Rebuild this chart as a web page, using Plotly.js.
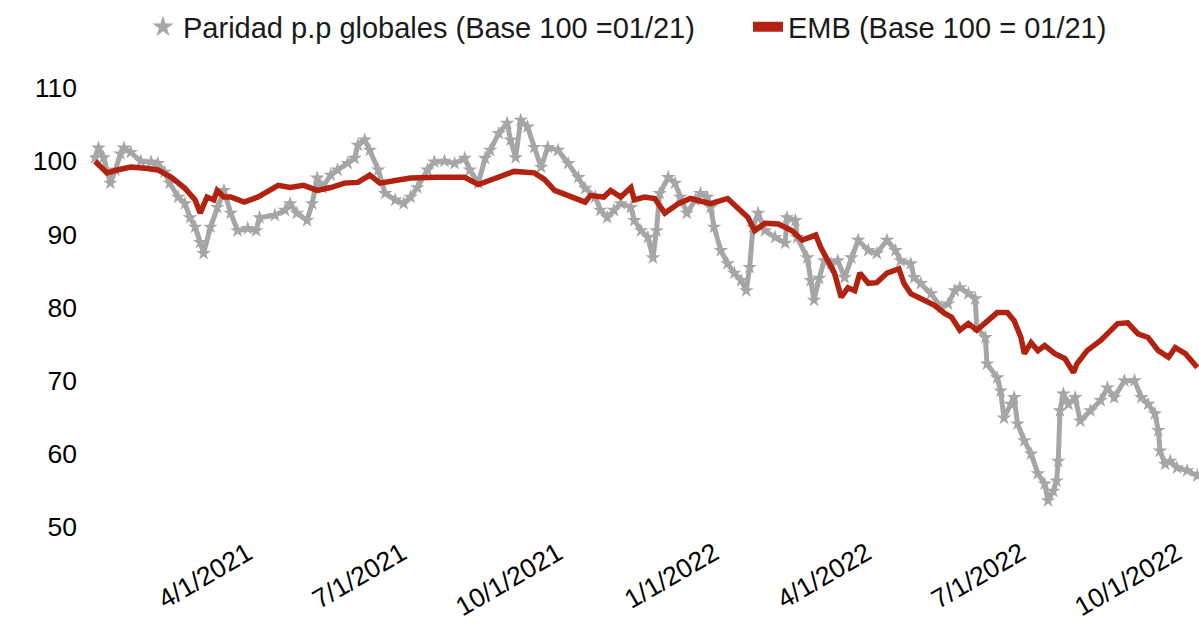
<!DOCTYPE html>
<html>
<head>
<meta charset="utf-8">
<script src="https://cdn.plot.ly/plotly-3.0.1.min.js"></script>
<style>
  html, body { margin: 0; padding: 0; background: #ffffff; }
  #chart { width: 1199px; height: 624px; }
</style>
</head>
<body>
<div id="chart"></div>
<script>
// EMB (Base 100 = 01/21)
const embDates = [
  '2021-01-01','2021-01-04','2021-01-08','2021-01-14','2021-01-22','2021-02-01','2021-02-07','2021-02-15',
  '2021-02-23','2021-03-01','2021-03-04','2021-03-08','2021-03-12','2021-03-14','2021-03-18','2021-03-22',
  '2021-03-30','2021-04-07','2021-04-14','2021-04-19','2021-04-26','2021-05-04','2021-05-12','2021-05-20',
  '2021-05-28','2021-06-05','2021-06-12','2021-06-18','2021-06-28','2021-07-06','2021-07-22','2021-08-07',
  '2021-08-15','2021-08-26','2021-09-05','2021-09-17','2021-09-23','2021-09-29','2021-10-07','2021-10-17',
  '2021-10-20','2021-10-28','2021-11-01','2021-11-07','2021-11-13','2021-11-15','2021-11-21','2021-11-27',
  '2021-12-03','2021-12-11','2021-12-18','2021-12-30','2022-01-09','2022-01-15','2022-01-21','2022-01-25',
  '2022-01-31','2022-02-08','2022-02-16','2022-02-22','2022-03-02','2022-03-05','2022-03-09','2022-03-13',
  '2022-03-17','2022-03-21','2022-03-25','2022-03-28','2022-04-02','2022-04-07','2022-04-13','2022-04-20',
  '2022-04-23','2022-04-27','2022-05-05','2022-05-11','2022-05-17','2022-05-21','2022-05-26','2022-05-31',
  '2022-06-05','2022-06-11','2022-06-17','2022-06-23','2022-06-27','2022-07-01','2022-07-03','2022-07-07',
  '2022-07-11','2022-07-15','2022-07-21','2022-07-27','2022-08-01','2022-08-03','2022-08-09','2022-08-17',
  '2022-08-23','2022-08-27','2022-09-02','2022-09-08','2022-09-14','2022-09-20','2022-09-26','2022-09-30',
  '2022-10-06','2022-10-13'
];
const embValues = [
  100.0, 99.3, 98.4, 98.8, 99.2, 99.0, 98.8, 97.8,
  96.3, 94.7, 92.9, 95.1, 94.7, 96.0, 95.1, 95.1,
  94.4, 95.1, 96.0, 96.7, 96.4, 96.7, 96.0, 96.4,
  97.0, 97.1, 98.1, 97.0, 97.4, 97.7, 97.8, 97.8,
  96.8, 97.7, 98.6, 98.4, 97.5, 96.0, 95.3, 94.4,
  95.3, 95.1, 96.0, 95.1, 96.4, 94.7, 95.1, 94.9,
  92.9, 94.2, 94.9, 94.2, 94.9, 93.6, 92.3, 90.5,
  91.5, 91.4, 90.5, 89.2, 89.9, 88.2, 86.4, 84.7,
  81.4, 82.7, 82.3, 84.7, 83.3, 83.4, 84.7, 85.3,
  83.3, 81.9, 81.0, 80.3, 79.2, 78.7, 76.9, 77.8,
  76.9, 78.2, 79.3, 79.3, 78.2, 75.9, 73.7, 75.2,
  74.1, 74.8, 73.7, 73.0, 71.1, 72.3, 74.1, 75.5,
  76.9, 77.8, 77.9, 76.4, 75.9, 74.1, 73.2, 74.5,
  73.7, 71.8
];

// Paridad p.p globales (Base 100 = 01/21)
const parDates = [
  '2021-01-01','2021-01-03','2021-01-06','2021-01-10','2021-01-13','2021-01-16','2021-01-18','2021-01-22',
  '2021-01-28','2021-02-03','2021-02-07','2021-02-11','2021-02-14','2021-02-19','2021-02-23','2021-02-26',
  '2021-03-01','2021-03-04','2021-03-06','2021-03-10','2021-03-14','2021-03-18','2021-03-22','2021-03-26',
  '2021-04-01','2021-04-06','2021-04-08','2021-04-17','2021-04-23','2021-04-26','2021-04-30','2021-05-06',
  '2021-05-09','2021-05-12','2021-05-15','2021-05-20','2021-05-24','2021-05-30','2021-06-03','2021-06-05',
  '2021-06-09','2021-06-12','2021-06-17','2021-06-21','2021-06-27','2021-07-02','2021-07-06','2021-07-10',
  '2021-07-16','2021-07-20','2021-07-26','2021-08-01','2021-08-07','2021-08-10','2021-08-15','2021-08-19',
  '2021-08-22','2021-08-27','2021-09-01','2021-09-03','2021-09-06','2021-09-09','2021-09-13','2021-09-17',
  '2021-09-21','2021-09-25','2021-10-01','2021-10-07','2021-10-13','2021-10-17','2021-10-23','2021-10-26',
  '2021-10-30','2021-11-03','2021-11-07','2021-11-13','2021-11-15','2021-11-19','2021-11-23','2021-11-26',
  '2021-11-28','2021-11-30','2021-12-05','2021-12-09','2021-12-12','2021-12-16','2021-12-21','2021-12-24',
  '2021-12-28','2021-12-30','2022-01-01','2022-01-05','2022-01-09','2022-01-13','2022-01-17','2022-01-20',
  '2022-01-22','2022-01-24','2022-01-27','2022-01-31','2022-02-06','2022-02-12','2022-02-13','2022-02-18',
  '2022-02-19','2022-02-25','2022-02-27','2022-03-01','2022-03-04','2022-03-07','2022-03-11','2022-03-15',
  '2022-03-19','2022-03-23','2022-03-27','2022-04-02','2022-04-07','2022-04-13','2022-04-18','2022-04-21',
  '2022-04-27','2022-04-29','2022-05-03','2022-05-09','2022-05-15','2022-05-19','2022-05-23','2022-05-26',
  '2022-05-31','2022-06-04','2022-06-05','2022-06-10','2022-06-11','2022-06-17','2022-06-19','2022-06-21',
  '2022-06-25','2022-06-27','2022-06-29','2022-07-03','2022-07-07','2022-07-11','2022-07-15','2022-07-17',
  '2022-07-20','2022-07-22','2022-07-23','2022-07-24','2022-07-26','2022-07-29','2022-08-02','2022-08-05',
  '2022-08-11','2022-08-17','2022-08-21','2022-08-25','2022-08-31','2022-09-06','2022-09-10','2022-09-14',
  '2022-09-18','2022-09-20','2022-09-21','2022-09-24','2022-09-27','2022-10-01','2022-10-07','2022-10-13'
];
const parValues = [
  100.5, 101.8, 100.5, 97.0, 98.8, 101.0, 101.8, 101.2,
  100.0, 99.9, 99.7, 98.5, 97.0, 95.1, 94.2, 92.3,
  91.0, 88.9, 87.4, 91.0, 93.7, 96.0, 92.9, 90.5,
  90.8, 90.5, 92.3, 92.6, 93.3, 94.2, 92.9, 91.9,
  94.2, 97.7, 96.4, 98.1, 98.8, 99.7, 100.4, 102.2,
  102.9, 101.5, 98.8, 95.6, 94.7, 94.2, 95.1, 96.4,
  98.8, 99.9, 100.0, 99.7, 100.4, 98.8, 97.0, 100.4,
  101.5, 103.8, 105.2, 102.9, 100.5, 105.6, 104.7, 101.9,
  99.2, 101.9, 101.5, 99.7, 97.8, 96.3, 95.1, 93.3,
  92.3, 93.3, 94.2, 93.7, 91.9, 90.5, 89.6, 86.8,
  90.5, 95.6, 97.8, 97.0, 95.1, 92.9, 94.7, 95.6,
  95.1, 93.7, 91.0, 87.8, 86.0, 84.7, 83.7, 82.3,
  85.5, 91.0, 92.9, 90.5, 89.6, 88.8, 92.3, 91.9,
  89.6, 86.8, 83.7, 81.0, 84.0, 86.4, 86.0, 86.4,
  84.1, 86.8, 89.2, 87.8, 87.4, 89.2, 87.8, 86.4,
  86.0, 84.1, 83.3, 81.9, 80.0, 80.5, 82.3, 82.7,
  81.9, 81.2, 77.3, 75.9, 72.3, 70.4, 68.6, 64.9,
  66.8, 67.7, 64.1, 61.8, 60.0, 57.3, 55.9, 53.6,
  54.9, 56.3, 59.0, 65.9, 68.2, 66.8, 67.7, 64.5,
  65.9, 67.3, 69.0, 67.7, 70.0, 70.0, 67.7, 66.8,
  65.5, 63.2, 60.4, 58.6, 59.0, 58.1, 57.7, 57.0
];

const tickDates = ['2021-04-01','2021-07-01','2021-10-01','2022-01-01','2022-04-01','2022-07-01','2022-10-01'];
const tickLabels = ['4/1/2021','7/1/2021','10/1/2021','1/1/2022','4/1/2022','7/1/2022','10/1/2022'];
const yTicks = [50, 60, 70, 80, 90, 100, 110];
const seriesNames = ['Paridad p.p globales (Base 100 =01/21)', 'EMB (Base 100 = 01/21)'];

const GRAY = '#A6A6A6';
const RED = '#B22210';
const FONT = 'Arial, "Liberation Sans", sans-serif';

const traces = [
  {
    x: parDates, y: parValues, type: 'scatter', mode: 'lines',
    line: {color: GRAY, width: 5}, showlegend: false, hoverinfo: 'skip'
  },
  {
    x: parDates, y: parValues, type: 'scatter', mode: 'markers',
    marker: {symbol: 'star', size: 11, color: GRAY, line: {width: 0}},
    showlegend: false
  },
  {
    x: embDates, y: embValues, type: 'scatter', mode: 'lines',
    line: {color: RED, width: 5.5}, showlegend: false
  },
  // legend entries (no data drawn)
  {
    x: [null], y: [null], type: 'scatter', mode: 'markers', name: seriesNames[0],
    marker: {symbol: 'star', size: 16, color: GRAY, line: {width: 0}},
    legend: 'legend', showlegend: true
  },
  {
    x: [null], y: [null], type: 'scatter', mode: 'lines', name: seriesNames[1],
    line: {color: RED, width: 10},
    legend: 'legend2', showlegend: true
  }
];

const legendCommon = {
  orientation: 'h', xref: 'container', yref: 'container',
  xanchor: 'left', yanchor: 'middle', y: 1 - 27 / 624,
  font: {family: FONT, size: 29, color: '#1a1a1a'},
  bgcolor: 'rgba(0,0,0,0)', borderwidth: 0
};

const layout = {
  width: 1199, height: 624,
  margin: {l: 90, r: 0, t: 87.5, b: 97, pad: 0, autoexpand: false},
  paper_bgcolor: '#ffffff', plot_bgcolor: '#ffffff',
  font: {family: FONT, color: '#000000', size: 26},
  showlegend: true,
  legend: Object.assign({}, legendCommon, {x: 143 / 1199}),
  legend2: Object.assign({}, legendCommon, {x: 748 / 1199}),
  xaxis: {
    type: 'date',
    range: ['2020-12-29', '2022-10-14'],
    tickmode: 'array', tickvals: tickDates, ticktext: tickLabels,
    tickangle: -30, ticks: '', showgrid: false, zeroline: false, showline: false,
    tickfont: {family: FONT, size: 26.5, color: '#000000'},
    ticklabelstandoff: 5
  },
  yaxis: {
    range: [50, 110],
    tickmode: 'array', tickvals: yTicks,
    ticks: '', showgrid: false, zeroline: false, showline: false,
    tickfont: {family: FONT, size: 26.5, color: '#000000'},
    ticklabelstandoff: 12
  }
};

Plotly.newPlot('chart', traces, layout, {displayModeBar: false, staticPlot: true});
</script>
</body>
</html>
